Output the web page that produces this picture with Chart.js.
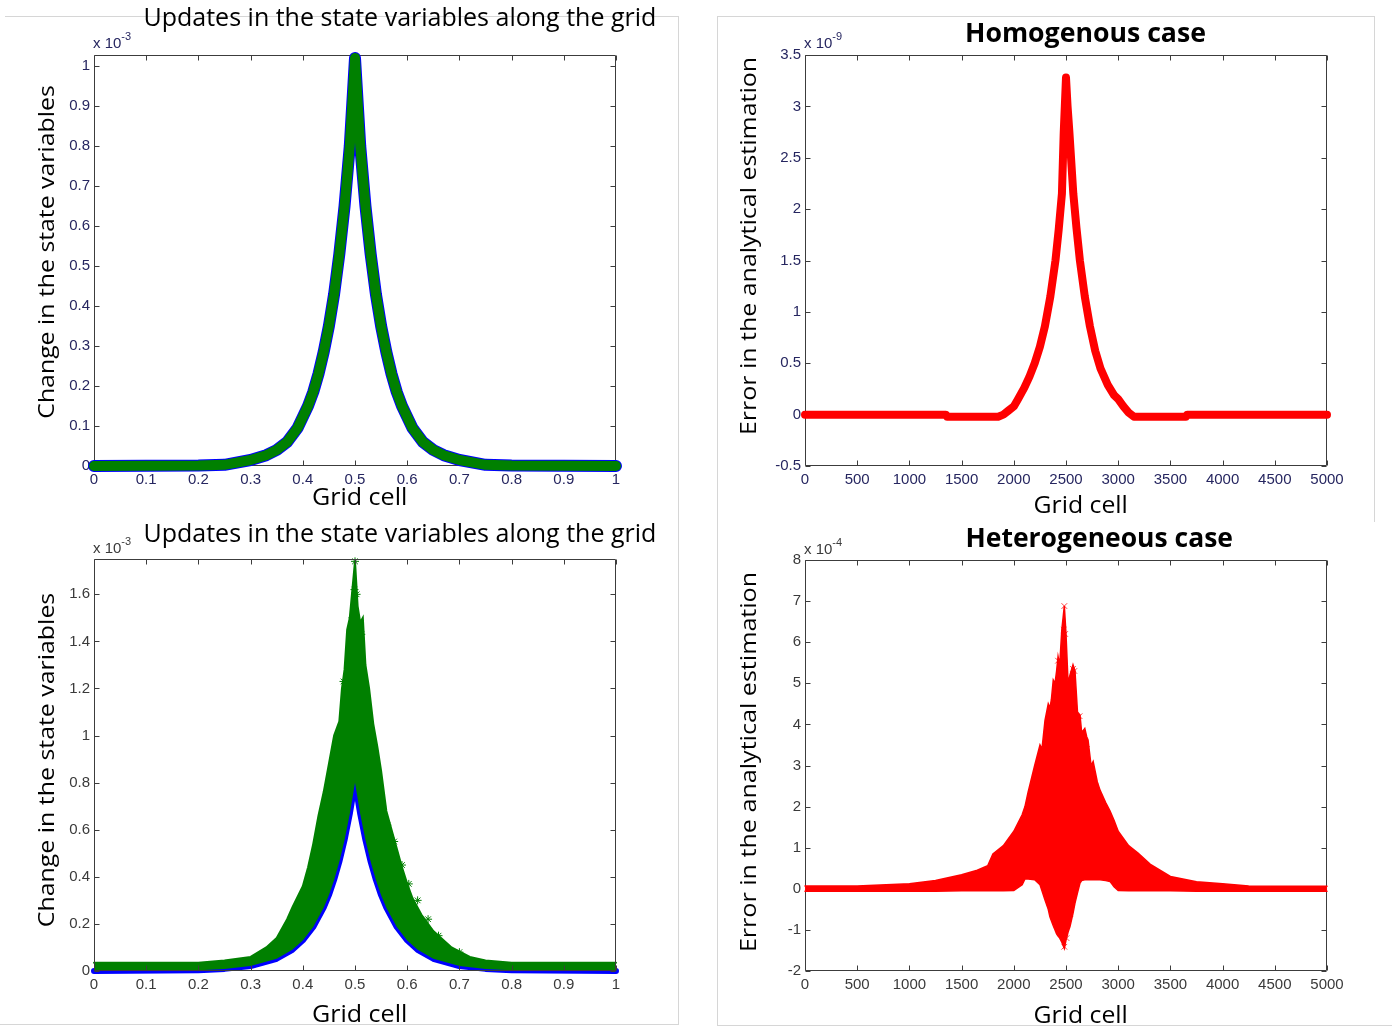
<!DOCTYPE html>
<html>
<head>
<meta charset="utf-8">
<script src="https://cdn.jsdelivr.net/npm/chart.js@4.4.1/dist/chart.umd.min.js"></script>
<style>
html, body { margin: 0; padding: 0; background: #fff; }
body { position: relative; width: 1392px; height: 1027px; overflow: hidden; }
canvas { position: absolute; }
.lbl { position: absolute; white-space: nowrap; line-height: 1; font-family: 'Open Sans', sans-serif; color: #000; transform-origin: 50% 50%; z-index: 2; }
.mult { position: absolute; white-space: nowrap; line-height: 1; font-family: 'Liberation Sans', Arial, sans-serif; font-size: 15px; z-index: 2; }
.mult sup { font-size: 11px; position: relative; top: -8px; vertical-align: baseline; }
.frame { position: absolute; background: #d6d6d6; z-index: 1; }
</style>
</head>
<body>
<canvas id="homUpd" width="700" height="515" style="left:0px;top:0px"></canvas>
<canvas id="homErr" width="692" height="515" style="left:700px;top:0px"></canvas>
<canvas id="hetUpd" width="700" height="512" style="left:0px;top:515px"></canvas>
<canvas id="hetErr" width="692" height="512" style="left:700px;top:515px"></canvas>

<div class="frame" style="left:5px;top:16px;width:674px;height:1px"></div>
<div class="frame" style="left:678px;top:16px;width:1px;height:1009px"></div>
<div class="frame" style="left:0px;top:1024px;width:679px;height:1px"></div>
<div class="frame" style="left:717px;top:16px;width:658px;height:1px"></div>
<div class="frame" style="left:717px;top:16px;width:1px;height:1009px"></div>
<div class="frame" style="left:1374px;top:16px;width:1px;height:506px"></div>
<div class="frame" style="left:717px;top:1025px;width:675px;height:1px"></div>

<div class="mult" style="left:93px;top:35px;color:#262660">x 10<sup>-3</sup></div>
<div class="mult" style="left:804px;top:35px;color:#262660">x 10<sup>-9</sup></div>
<div class="mult" style="left:93px;top:540px;color:#3a3a3a">x 10<sup>-3</sup></div>
<div class="mult" style="left:804px;top:541px;color:#3a3a3a">x 10<sup>-4</sup></div>

<script>
// top left: updates, homogeneous field (x = grid fraction, y in 1e-3)
const homUpdX = [0, 0.2, 0.25, 0.3, 0.33, 0.35, 0.37, 0.39, 0.41, 0.42, 0.43, 0.44, 0.45, 0.46, 0.47, 0.48, 0.49,
    0.5, 0.51, 0.52, 0.53, 0.54, 0.55, 0.56, 0.57, 0.58, 0.59, 0.61, 0.63, 0.65, 0.67, 0.7, 0.75, 0.8, 1];
const homUpdY = [0, 0.001, 0.003, 0.015, 0.027, 0.04, 0.06, 0.095, 0.15, 0.185, 0.23, 0.285, 0.35, 0.43, 0.53, 0.65, 0.8,
    1.02, 0.8, 0.65, 0.53, 0.43, 0.35, 0.285, 0.23, 0.185, 0.15, 0.095, 0.06, 0.04, 0.027, 0.015, 0.003, 0.001, 0];

// top right: error, homogeneous case (x = grid cell, y in 1e-9)
const homErrX = [0, 1350, 1360, 1850, 1900, 1950, 2000, 2040, 2100, 2150, 2200, 2250, 2298, 2350, 2399, 2430, 2461, 2478,
    2500, 2515, 2533, 2570, 2600, 2633, 2680, 2729, 2780, 2830, 2900, 2960, 3000, 3050, 3100, 3150, 3650, 3660, 5000];
const homErrY = [0, 0, -0.02, -0.02, 0, 0.04, 0.08, 0.15, 0.26, 0.37, 0.5, 0.66, 0.86, 1.15, 1.5, 1.8, 2.15, 2.74,
    3.28, 3.0, 2.74, 2.15, 1.82, 1.5, 1.15, 0.86, 0.62, 0.45, 0.29, 0.19, 0.15, 0.08, 0.02, -0.02, -0.02, 0, 0];

// bottom left: updates, heterogeneous field (y in 1e-3)
const hetTrueX = [0, 0.2, 0.25, 0.3, 0.35, 0.38, 0.4, 0.42, 0.44, 0.45, 0.46, 0.47, 0.48, 0.49,
    0.5, 0.51, 0.52, 0.53, 0.54, 0.55, 0.56, 0.58, 0.6, 0.62, 0.65, 0.7, 0.75, 0.8, 1];
const hetTrueY = [0, 0.003, 0.009, 0.021, 0.052, 0.09, 0.13, 0.187, 0.269, 0.322, 0.387, 0.464, 0.556, 0.667,
    0.8, 0.667, 0.556, 0.464, 0.387, 0.322, 0.269, 0.187, 0.13, 0.09, 0.052, 0.021, 0.009, 0.003, 0];
const hetUpdX = [0, 0.1, 0.2, 0.25, 0.3, 0.33, 0.35, 0.37, 0.38, 0.4, 0.41, 0.42, 0.43, 0.44, 0.45, 0.46, 0.47, 0.475,
    0.48, 0.485, 0.49, 0.495, 0.5, 0.505, 0.51, 0.515, 0.52, 0.527, 0.535, 0.543, 0.55, 0.56, 0.57, 0.58, 0.59, 0.6,
    0.61, 0.627, 0.65, 0.685, 0.72, 0.75, 0.8, 0.9, 1];
const hetUpdY = [0.035, 0.035, 0.035, 0.045, 0.06, 0.1, 0.14, 0.22, 0.27, 0.36, 0.44, 0.54, 0.66, 0.76, 0.88, 1.0, 1.06, 1.2,
    1.28, 1.45, 1.5, 1.62, 1.74, 1.55, 1.48, 1.5, 1.3, 1.2, 1.05, 0.95, 0.85, 0.68, 0.6, 0.52, 0.44, 0.37,
    0.31, 0.24, 0.17, 0.1, 0.06, 0.045, 0.035, 0.035, 0.035];
const hetStarX = [0.5, 0.499, 0.503, 0.495, 0.506, 0.49, 0.512, 0.486, 0.478, 0.52, 0.47, 0.465, 0.53, 0.545, 0.552,
    0.458, 0.446, 0.562, 0.575, 0.438, 0.428, 0.418, 0.59, 0.603, 0.408, 0.398, 0.62, 0.388, 0.64, 0.372, 0.66, 0.352, 0.7, 0.322];
const hetStarY = [1.74, 1.62, 1.6, 1.5, 1.47, 1.35, 1.43, 1.24, 1.23, 1.08, 0.95, 0.93, 0.84, 0.78, 0.7,
    0.8, 0.72, 0.62, 0.55, 0.6, 0.5, 0.45, 0.45, 0.37, 0.37, 0.3, 0.3, 0.26, 0.22, 0.17, 0.15, 0.11, 0.08, 0.07];

// bottom right: error, heterogeneous case (y in 1e-4), upper and lower edge of the cloud
const hetErrX = [0, 500, 1000, 1250, 1500, 1650, 1750, 1800, 1900, 2000, 2080, 2107, 2137, 2200, 2251, 2270, 2299, 2330,
    2346, 2360, 2378, 2395, 2410, 2424, 2440, 2460, 2484, 2500, 2520, 2538, 2567, 2586, 2610, 2634, 2650, 2680, 2698,
    2711, 2740, 2760, 2800, 2826, 2880, 2921, 2960, 3000, 3100, 3190, 3305, 3500, 3750, 4000, 4250, 4500, 5000];
const hetErrUpper = [0.07, 0.07, 0.12, 0.2, 0.34, 0.45, 0.56, 0.85, 1.05, 1.4, 1.8, 2.0, 2.35, 3.0, 3.5, 3.4, 4.1, 4.5,
    4.4, 4.6, 5.08, 5.0, 5.3, 5.65, 5.45, 6.3, 6.88, 6.2, 5.0, 5.2, 5.45, 5.3, 4.3, 4.23, 3.8, 3.9, 3.7,
    3.62, 3.0, 3.1, 2.6, 2.4, 2.1, 1.9, 1.67, 1.4, 1.05, 0.87, 0.6, 0.3, 0.17, 0.12, 0.07, 0.06, 0.06];
const hetErrLower = [-0.06, -0.06, -0.06, -0.06, -0.05, -0.05, -0.05, -0.05, -0.05, -0.04, 0.1, 0.24, 0.24, 0.22, 0.1, -0.05, -0.27, -0.5,
    -0.68, -0.78, -0.9, -1.0, -1.1, -1.15, -1.2, -1.3, -1.45, -1.25, -1.05, -0.92, -0.6, -0.35, -0.1, 0.14, 0.2, 0.22, 0.22,
    0.22, 0.22, 0.22, 0.22, 0.22, 0.2, 0.18, 0.05, -0.04, -0.05, -0.05, -0.05, -0.05, -0.06, -0.06, -0.06, -0.06, -0.06];
const hetCrossX = [2484, 2484, 2478, 2492, 2424, 2567, 2580, 2410, 2390, 2370, 2345, 2630, 2642, 2662, 2700,
    2300, 2740, 2780, 2262, 2200, 2140, 2060, 2820, 2880, 2950, 2460, 2505, 2420, 2540, 2380];
const hetCrossY = [6.88, -1.41, 6.3, 6.2, 5.55, 5.35, 5.3, 4.95, 4.3, 4.3, 3.9, 4.2, 3.8, 3.7, 3.4,
    3.3, 2.8, 2.5, 3.2, 2.1, 1.8, 1.3, 2.1, 1.5, 1.15, -1.1, -1.2, -0.8, -0.6, -0.3];

// tick values
const fracTicks = [0, 0.1, 0.2, 0.3, 0.4, 0.5, 0.6, 0.7, 0.8, 0.9, 1];
const cellTicks = [0, 500, 1000, 1500, 2000, 2500, 3000, 3500, 4000, 4500, 5000];
const homUpdTicks = [0, 0.1, 0.2, 0.3, 0.4, 0.5, 0.6, 0.7, 0.8, 0.9, 1];
const homErrTicks = [-0.5, 0, 0.5, 1, 1.5, 2, 2.5, 3, 3.5];
const hetUpdTicks = [0, 0.2, 0.4, 0.6, 0.8, 1, 1.2, 1.4, 1.6];
const hetErrTicks = [-2, -1, 0, 1, 2, 3, 4, 5, 6, 7, 8];

const BLUE = '#0000ff';
const GREEN = '#008000';
const RED = '#ff0000';

Chart.defaults.font.family = "'Liberation Sans', Arial, sans-serif";

function pts(xs, ys) {
    return xs.map((x, i) => ({ x: x, y: ys[i] }));
}

function fmt(v) {
    return String(Math.round(v * 1000) / 1000);
}

// matlab style box with inward ticks on all four sides
const boxTicks = {
    id: 'boxTicks',
    drawBox(chart) {
        const { ctx, chartArea: a, scales } = chart;
        const L = Math.round(a.left) + 0.5, R = Math.round(a.right) - 0.5;
        const T = Math.round(a.top) + 0.5, B = Math.round(a.bottom) - 0.5;
        ctx.save();
        ctx.strokeStyle = '#3c3c3c';
        ctx.lineWidth = 1;
        ctx.beginPath();
        ctx.rect(L, T, R - L, B - T);
        scales.x.ticks.forEach(t => {
            const p = Math.round(scales.x.getPixelForValue(t.value)) + 0.5;
            ctx.moveTo(p, B); ctx.lineTo(p, B - 5);
            ctx.moveTo(p, T); ctx.lineTo(p, T + 5);
        });
        scales.y.ticks.forEach(t => {
            const p = Math.round(scales.y.getPixelForValue(t.value)) + 0.5;
            ctx.moveTo(L, p); ctx.lineTo(L + 5, p);
            ctx.moveTo(R, p); ctx.lineTo(R - 5, p);
        });
        ctx.stroke();
        ctx.restore();
    },
    beforeDatasetsDraw(chart, args, opts) {
        if (!opts.onTop) this.drawBox(chart);
    },
    afterDatasetsDraw(chart, args, opts) {
        if (opts.onTop) this.drawBox(chart);
    }
};

function lineSet(data, color, width, order, extra) {
    return Object.assign({
        data: data, borderColor: color, backgroundColor: color, borderWidth: width,
        pointRadius: 0, tension: 0, fill: false, clip: 10, order: order,
        borderCapStyle: 'round', borderJoinStyle: 'round'
    }, extra || {});
}

function markSet(data, color, style, order) {
    return {
        data: data, showLine: false, borderColor: color, backgroundColor: color, borderWidth: 1,
        pointStyle: style, pointRadius: 4, clip: 10, order: order
    };
}

function createPanel(canvasId, cfg) {
    const ctx = document.getElementById(canvasId).getContext('2d');
    return new Chart(ctx, {
        type: 'line',
        data: { datasets: cfg.datasets },
        options: {
            responsive: false,
            animation: false,
            devicePixelRatio: 1,
            layout: { padding: { top: cfg.top, right: cfg.right, left: 0, bottom: 0 } },
            plugins: {
                legend: { display: false },
                tooltip: { enabled: false },
                boxTicks: { onTop: cfg.boxOnTop }
            },
            scales: {
                x: {
                    type: 'linear',
                    min: cfg.xMin,
                    max: cfg.xMax,
                    grid: { display: false, drawTicks: false },
                    border: { display: false },
                    afterFit: s => { s.height = cfg.bottom; },
                    afterBuildTicks: s => { s.ticks = cfg.xTicks.map(v => ({ value: v })); },
                    ticks: {
                        color: cfg.tickColor, font: { size: 15 }, padding: 5,
                        maxRotation: 0, autoSkip: false, callback: fmt
                    }
                },
                y: {
                    type: 'linear',
                    min: cfg.yMin,
                    max: cfg.yMax,
                    grid: { display: false, drawTicks: false },
                    border: { display: false },
                    afterFit: s => { s.width = cfg.left; },
                    afterBuildTicks: s => { s.ticks = cfg.yTicks.map(v => ({ value: v })); },
                    ticks: {
                        color: cfg.tickColor, font: { size: 15 }, padding: 4,
                        autoSkip: false, callback: fmt
                    }
                }
            }
        },
        plugins: [boxTicks]
    });
}

createPanel('homUpd', {
    left: 94, right: 84, top: 55, bottom: 49,
    xMin: 0, xMax: 1, yMin: 0, yMax: 1.0275,
    xTicks: fracTicks, yTicks: homUpdTicks, tickColor: '#262660', boxOnTop: false,
    datasets: [
        lineSet(pts(homUpdX, homUpdY), BLUE, 12, 2),
        lineSet(pts(homUpdX, homUpdY), GREEN, 10, 1)
    ]
});

createPanel('homErr', {
    left: 105, right: 65, top: 55, bottom: 49,
    xMin: 0, xMax: 5000, yMin: -0.5, yMax: 3.5,
    xTicks: cellTicks, yTicks: homErrTicks, tickColor: '#262660', boxOnTop: false,
    datasets: [
        lineSet(pts(homErrX, homErrY), RED, 8, 1)
    ]
});

createPanel('hetUpd', {
    left: 94, right: 84, top: 44, bottom: 56,
    xMin: 0, xMax: 1, yMin: 0, yMax: 1.75,
    xTicks: fracTicks, yTicks: hetUpdTicks, tickColor: '#3a3a3a', boxOnTop: true,
    datasets: [
        lineSet(pts(hetTrueX, hetTrueY), BLUE, 6, 3),
        lineSet(pts(hetUpdX, hetUpdY), GREEN, 2, 2, { fill: '-1', borderJoinStyle: 'miter' }),
        markSet(pts(hetStarX, hetStarY), GREEN, 'star', 1)
    ]
});

createPanel('hetErr', {
    left: 105, right: 65, top: 45, bottom: 56,
    xMin: 0, xMax: 5000, yMin: -2, yMax: 8,
    xTicks: cellTicks, yTicks: hetErrTicks, tickColor: '#3a3a3a', boxOnTop: false,
    datasets: [
        lineSet(pts(hetErrX, hetErrLower), RED, 1.5, 3, { borderJoinStyle: 'miter' }),
        lineSet(pts(hetErrX, hetErrUpper), RED, 1.5, 2, { fill: '-1', borderJoinStyle: 'miter' }),
        markSet(pts(hetCrossX, hetCrossY), 'rgba(255,0,0,0.75)', 'crossRot', 1)
    ]
});

// titles and axis labels, stretched to the measured width
function addLabel(text, cx, cy, size, weight, width, vertical) {
    const el = document.createElement('div');
    el.className = 'lbl';
    el.textContent = text;
    el.style.fontSize = size + 'px';
    el.style.fontWeight = weight;
    document.body.appendChild(el);
    const w = el.offsetWidth;
    const h = el.offsetHeight;
    el.style.left = (cx - w / 2) + 'px';
    el.style.top = (cy - h / 2) + 'px';
    el.style.transform = (vertical ? 'rotate(-90deg) ' : '') + 'scaleX(' + (width / w) + ')';
}

addLabel('Updates in the state variables along the grid', 400, 16, 25, 400, 513, false);
addLabel('Updates in the state variables along the grid', 400, 532, 25, 400, 513, false);
addLabel('Homogenous case', 1085, 32, 26, 700, 241, false);
addLabel('Heterogeneous case', 1099, 537, 26, 700, 268, false);
addLabel('Grid cell', 359.5, 496, 24, 400, 95, false);
addLabel('Grid cell', 1080, 504, 24, 400, 94, false);
addLabel('Grid cell', 359.5, 1013, 24, 400, 95, false);
addLabel('Grid cell', 1080, 1014, 24, 400, 94, false);
addLabel('Change in the state variables', 45, 252, 22, 400, 334, true);
addLabel('Change in the state variables', 45, 760, 22, 400, 335, true);
addLabel('Error in the analytical estimation', 746, 246, 22, 400, 378, true);
addLabel('Error in the analytical estimation', 746, 762, 22, 400, 380, true);
</script>
</body>
</html>
